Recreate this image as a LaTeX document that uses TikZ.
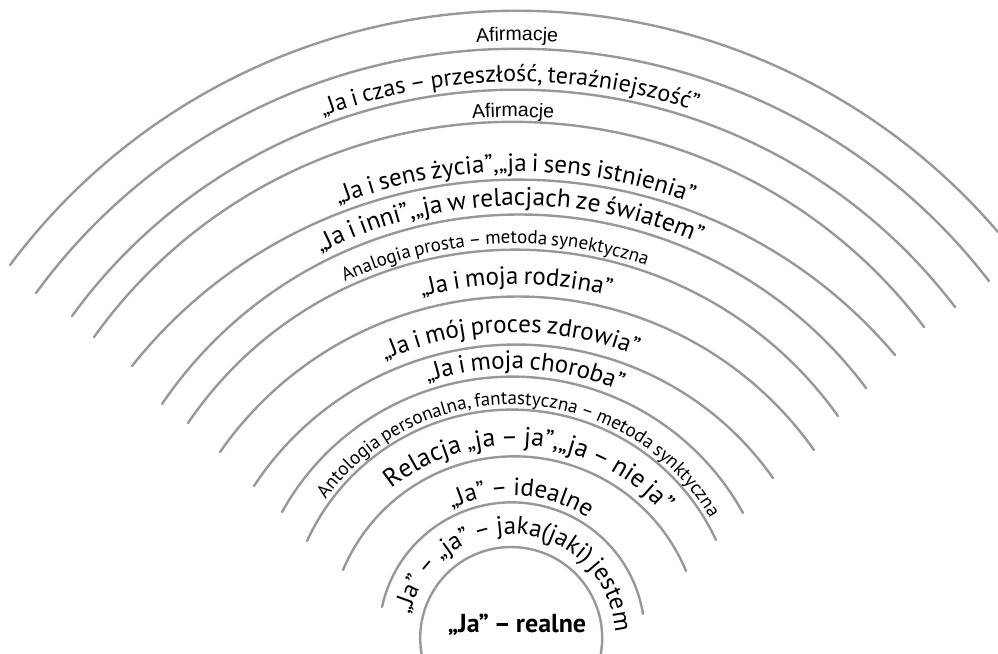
\documentclass[tikz,border=0pt]{standalone}
\usepackage{fontspec}
\setmainfont{PT Sans}[WordSpace=0.75]
\newfontfamily\arialf{Liberation Sans}
\usetikzlibrary{decorations.text}
\definecolor{arcgray}{RGB}{152,152,152}
\tikzset{arcline/.style={draw=arcgray,line width=2.4pt,line cap=round}}
% circle through three points (px, y downwards), drawn clockwise from left to right
\newcommand\mkarc[7]{%
 \pgfmathsetmacro\mAx{#2/100}\pgfmathsetmacro\mAy{(653-#3)/100}%
 \pgfmathsetmacro\mBx{#4/100}\pgfmathsetmacro\mBy{(653-#5)/100}%
 \pgfmathsetmacro\mCx{#6/100}\pgfmathsetmacro\mCy{(653-#7)/100}%
 \pgfmathsetmacro\mD{2*(\mAx*(\mBy-\mCy)+\mBx*(\mCy-\mAy)+\mCx*(\mAy-\mBy))}%
 \pgfmathsetmacro\mSA{\mAx*\mAx+\mAy*\mAy}%
 \pgfmathsetmacro\mSB{\mBx*\mBx+\mBy*\mBy}%
 \pgfmathsetmacro\mSC{\mCx*\mCx+\mCy*\mCy}%
 \pgfmathsetmacro\mUx{(\mSA*(\mBy-\mCy)+\mSB*(\mCy-\mAy)+\mSC*(\mAy-\mBy))/\mD}%
 \pgfmathsetmacro\mUy{(\mSA*(\mCx-\mBx)+\mSB*(\mAx-\mCx)+\mSC*(\mBx-\mAx))/\mD}%
 \pgfmathsetmacro\mR{sqrt((\mAx-\mUx)^2+(\mAy-\mUy)^2)}%
 \pgfmathsetmacro\mS{atan2(\mAy-\mUy,\mAx-\mUx)}%
 \pgfmathsetmacro\mE{atan2(\mCy-\mUy,\mCx-\mUx)}%
 \pgfmathsetmacro\mS{\mS+360*(\mS<\mE)}%
 \expandafter\xdef\csname arcUx#1\endcsname{\mUx}%
 \expandafter\xdef\csname arcUy#1\endcsname{\mUy}%
 \expandafter\xdef\csname arcR#1\endcsname{\mR}%
 \draw[arcline] ({100*\mUx+100*\mR*cos(\mS)},{100*\mUy+100*\mR*sin(\mS)})
   arc[start angle=\mS,end angle=\mE,radius={100*\mR}];
}
% text on a circle concentric with arc #1, baseline #2 px outside it,
% text centred at x=#3 px, path half-span #4 deg, font #5, text #6
\newcommand\bandtext[6]{%
 \edef\tUx{\csname arcUx#1\endcsname}%
 \edef\tUy{\csname arcUy#1\endcsname}%
 \edef\tRr{\csname arcR#1\endcsname}%
 \pgfmathsetmacro\tR{100*\tRr+#2}%
 \pgfmathsetmacro\tPhi{acos((#3-100*\tUx)/\tR)}%
 \pgfmathsetmacro\tA{\tPhi+#4}\pgfmathsetmacro\tB{\tPhi-#4}%
 \path[decorate,decoration={text along path,text align=center,text={|#5|#6}}]
   ({100*\tUx+\tR*cos(\tA)},{100*\tUy+\tR*sin(\tA)})
   arc[start angle=\tA,end angle=\tB,radius=\tR];
}
\newcommand\bigf{\fontsize{25}{30}\selectfont}
\newcommand\smallf{\fontsize{19}{22}\selectfont}
\newcommand\afirf{\arialf\fontsize{19.5}{22}\selectfont}
\begin{document}
\begin{tikzpicture}[x=1pt,y=1pt]
\useasboundingbox (0,0) rectangle (998,653);
\fill[white] (0,0) rectangle (998,653);
\clip (0,0) rectangle (998,653);
\mkarc{1}{10}{265}{499}{11}{998}{232}
\mkarc{2}{36}{293}{499}{49}{989}{281}
\mkarc{3}{72}{316}{499}{90}{955}{307}
\mkarc{4}{94}{337}{499}{122}{924}{327}
\mkarc{5}{132}{366}{499}{180}{895}{355}
\mkarc{6}{162}{404}{499}{215}{866}{388}
\mkarc{7}{188}{423}{499}{250}{838}{416}
\mkarc{8}{220}{452}{499}{297}{814}{450}
\mkarc{9}{254}{486}{499}{345}{773}{478}
\mkarc{10}{282}{512}{499}{377}{743}{513}
\mkarc{11}{307}{541}{499}{410}{716}{540}
\mkarc{12}{343}{570}{499}{457}{686}{571}
\mkarc{13}{382}{607}{499}{503}{643}{614}
\mkarc{14}{422}{656}{499}{548}{600}{656}
\bandtext{2}{8}{517}{40}{\afirf}{Afirmacje}
\bandtext{3}{8}{509}{45}{\fontsize{24}{30}\selectfont}{„Ja i czas – przeszłość, teraźniejszość”}
\bandtext{4}{5}{513}{40}{\afirf}{Afirmacje}
\bandtext{5}{8}{515}{50}{\bigf}{„Ja i sens życia”,„ja i sens istnienia”}
\bandtext{6}{9}{509}{55}{\fontsize{25.5}{30}\selectfont}{„Ja i inni”,„ja w relacjach ze światem”}
\bandtext{7}{6}{494}{60}{\smallf}{Analogia prosta – metoda synektyczna}
\bandtext{8}{12}{516}{60}{\bigf}{„Ja i moja rodzina”}
\bandtext{9}{12}{510}{70}{\bigf}{„Ja i mój proces zdrowia”}
\bandtext{10}{8}{525}{80}{\bigf}{„Ja i moja choroba”}
\bandtext{11}{5}{523}{100}{\smallf}{Antologia personalna, fantastyczna – metoda synktyczna}
\bandtext{12}{11}{532}{110}{\fontsize{26}{32}\selectfont}{Relacja „ja – ja”,„ja – nie ja”}
\bandtext{13}{7}{521}{120}{\bigf}{„Ja” – idealne}
\bandtext{14}{13}{520}{150}{\bigf}{„Ja” – „ja” – jaka(jaki) jestem}
\node[font=\bfseries\fontsize{26}{30}\selectfont,anchor=base] (realne) at (517,20) {„Ja” – realne};
\end{tikzpicture}
\end{document}
